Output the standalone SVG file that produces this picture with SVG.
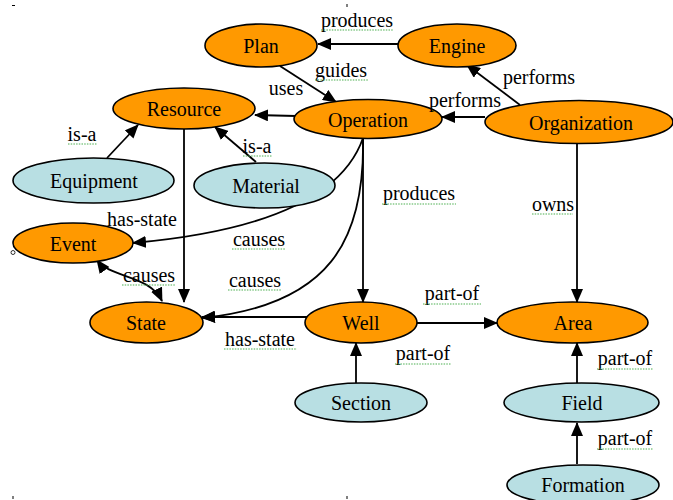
<svg xmlns="http://www.w3.org/2000/svg" width="673" height="500" viewBox="0 0 673 500">
<style>
.o{fill:#ff9900;stroke:#000;stroke-width:1.6}
.b{fill:#b8dfe3;stroke:#000;stroke-width:1.6}
.e{fill:none;stroke:#000;stroke-width:1.8}
.a{marker-end:url(#ah)}
.u{stroke:#4caf50;stroke-width:1.2;stroke-dasharray:1.5 1.2}
</style>
<defs>
<marker id="ah" markerWidth="14" markerHeight="12" refX="13" refY="6" orient="auto" markerUnits="userSpaceOnUse">
<path d="M0,0 L14,6 L0,12 Z" fill="#000"/>
</marker>
<marker id="as" markerWidth="14" markerHeight="12" refX="1" refY="6" orient="auto" markerUnits="userSpaceOnUse">
<path d="M14,0 L0,6 L14,12 Z" fill="#000"/>
</marker>
</defs>
<rect width="673" height="500" fill="#fff"/>
<g id="connectors">
<line class="e a" x1="398" y1="44" x2="318" y2="44"/>
<line class="e a" x1="280" y1="66" x2="336" y2="102"/>
<line class="e a" x1="296" y1="116" x2="255" y2="115"/>
<line class="e a" x1="520" y1="105" x2="467" y2="65"/>
<line class="e a" x1="485" y1="117" x2="442" y2="117"/>
<line class="e a" x1="107" y1="158" x2="138" y2="125"/>
<line class="e a" x1="256" y1="162" x2="215" y2="127"/>
<line class="e a" x1="184" y1="129" x2="184" y2="302"/>
<line class="e a" x1="363" y1="138" x2="363" y2="302"/>
<line class="e a" x1="577" y1="143" x2="577" y2="302"/>
<line class="e a" x1="417" y1="323" x2="497" y2="323"/>
<line class="e a" x1="356" y1="383" x2="356" y2="343"/>
<line class="e a" x1="577" y1="383" x2="577" y2="343"/>
<line class="e a" x1="577" y1="464" x2="577" y2="423"/>
<line class="e a" x1="307" y1="317" x2="202" y2="317"/>
<path class="e a" d="M363,138 C345,190 280,230 133,243"/>
<path class="e a" d="M363,138 C365,240 330,305 202,318"/>
<path class="e a" d="M97,260 C110,278 150,275 162,301" marker-start="url(#as)"/>
</g>
<g font-family="Liberation Serif, Times New Roman, Times, serif" font-size="20" text-anchor="middle" fill="#000">
<g id="Plan"><ellipse class="o" cx="261" cy="45.5" rx="56" ry="21.5"/><text x="261" y="52.5" fill="#000">Plan</text></g>
<g id="Engine"><ellipse class="o" cx="457" cy="45.5" rx="59" ry="21.5"/><text x="457" y="52.5" fill="#000">Engine</text></g>
<g id="Resource"><ellipse class="o" cx="184" cy="108.5" rx="71" ry="20.5"/><text x="184" y="116" fill="#000">Resource</text></g>
<g id="Operation"><ellipse class="o" cx="368" cy="119" rx="74" ry="19.5"/><text x="368" y="126.5" fill="#000">Operation</text></g>
<g id="Organization"><ellipse class="o" cx="579" cy="122" rx="94" ry="21.5"/><text x="581" y="129.5" fill="#000">Organization</text></g>
<g id="Equipment"><ellipse class="b" cx="93.5" cy="180.5" rx="80.5" ry="22.5"/><text x="94" y="188" fill="#000">Equipment</text></g>
<g id="Material"><ellipse class="b" cx="264.5" cy="185.5" rx="70.5" ry="22.5"/><text x="266" y="193" fill="#000">Material</text></g>
<g id="Event"><ellipse class="o" cx="73" cy="243" rx="60" ry="20"/><text x="73" y="250.5" fill="#000">Event</text><circle cx="13" cy="252.5" r="2" fill="#fff" stroke="#000" stroke-width="0.8"/></g>
<g id="State"><ellipse class="o" cx="146.5" cy="322.5" rx="56.5" ry="20.5"/><text x="146" y="330" fill="#000">State</text></g>
<g id="Well"><ellipse class="o" cx="361" cy="322.5" rx="56" ry="20.5"/><text x="361" y="330" fill="#000">Well</text></g>
<g id="Area"><ellipse class="o" cx="572.5" cy="322.5" rx="75.5" ry="20.5"/><text x="573" y="330" fill="#000">Area</text></g>
<g id="Section"><ellipse class="b" cx="361" cy="402.5" rx="66" ry="19.5"/><text x="361" y="410" fill="#000">Section</text></g>
<g id="Field"><ellipse class="b" cx="581.5" cy="402.5" rx="77.5" ry="19.5"/><text x="582" y="410" fill="#000">Field</text></g>
<g id="Formation"><ellipse class="b" cx="583" cy="485" rx="76" ry="20"/><text x="583" y="492" fill="#000">Formation</text></g>
<g id="labels">
<text x="357" y="27">produces</text><line class="u" x1="321" y1="30" x2="393" y2="30"/>
<text x="341" y="77">guides</text><line class="u" x1="315" y1="80" x2="368" y2="80"/>
<text x="286" y="95">uses</text>
<text x="539" y="84">performs</text>
<text x="465" y="107">performs</text>
<text x="82" y="141">is-a</text><line class="u" x1="68" y1="144" x2="97" y2="144"/>
<text x="257" y="153">is-a</text><line class="u" x1="243" y1="156" x2="272" y2="156"/>
<text x="142" y="226">has-state</text>
<text x="259" y="246">causes</text><line class="u" x1="232" y1="249" x2="286" y2="249"/>
<text x="255" y="287">causes</text><line class="u" x1="228" y1="290" x2="282" y2="290"/>
<text x="149" y="282">causes</text><line class="u" x1="122" y1="285" x2="176" y2="285"/>
<text x="260" y="346">has-state</text><line class="u" x1="224" y1="349" x2="297" y2="349"/>
<text x="419" y="200">produces</text><line class="u" x1="382" y1="204" x2="456" y2="204"/>
<text x="553" y="211">owns</text><line class="u" x1="532" y1="214" x2="573" y2="214"/>
<text x="452" y="300">part-of</text><line class="u" x1="423" y1="304" x2="481" y2="304"/>
<text x="423" y="360">part-of</text><line class="u" x1="395" y1="364" x2="451" y2="364"/>
<text x="625" y="365">part-of</text><line class="u" x1="597" y1="369" x2="653" y2="369"/>
<text x="625" y="445">part-of</text><line class="u" x1="597" y1="449" x2="653" y2="449"/>
</g>
</g>
<g id="marks" stroke="#000" stroke-width="1">
<line x1="12" y1="5.5" x2="15" y2="5.5"/>
<line x1="347" y1="4" x2="347" y2="7"/>
<line x1="13" y1="496" x2="13" y2="499"/>
<line x1="347" y1="496" x2="347" y2="499"/>
</g>
</svg>
